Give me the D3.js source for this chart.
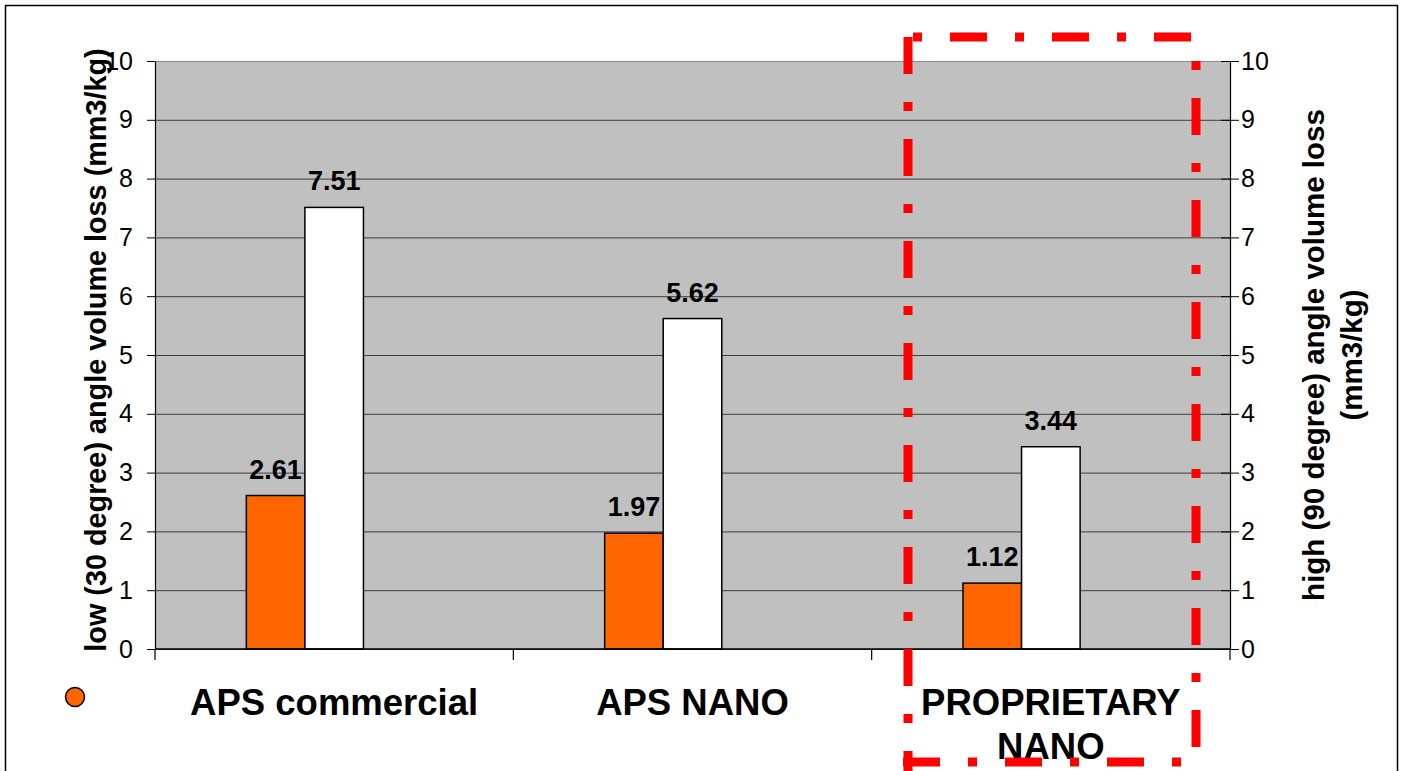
<!DOCTYPE html>
<html>
<head>
<meta charset="utf-8">
<script src="https://cdn.jsdelivr.net/npm/d3@7"></script>
<style>
  html, body { margin: 0; padding: 0; background: #fff; }
  svg { display: block; font-family: "Liberation Sans", Arial, sans-serif; }
</style>
</head>
<body>
<svg id="chart" width="1404" height="771"></svg>
<script>
// ---- data ----
const categories = ["APS commercial", "APS NANO", "PROPRIETARY NANO"];
const lowValues = [2.61, 1.97, 1.12];   // primary axis, orange
const highValues = [7.51, 5.62, 3.44];  // secondary axis, white
const yTickValues = [0, 1, 2, 3, 4, 5, 6, 7, 8, 9, 10];
const leftTitle = "low (30 degree) angle volume loss (mm3/kg)";
const rightTitleLines = ["high (90 degree) angle volume loss", "(mm3/kg)"];

// ---- layout ----
const svg = d3.select("#chart");
const plot = { left: 155, right: 1230, top: 61, bottom: 649 };
const plotW = plot.right - plot.left;

const x0 = d3.scaleBand().domain(categories).range([plot.left, plot.right]).padding(0);
const slots = ["low", "high", "spare"];
const x1 = d3.scaleBand().domain(slots).range([0, x0.bandwidth()]).paddingInner(0).paddingOuter(1.56);
const yL = d3.scaleLinear().domain([0, 10]).range([plot.bottom, plot.top]);
const yR = d3.scaleLinear().domain([0, 10]).range([plot.bottom, plot.top]);

// outer frame
svg.append("rect").attr("x", 5.5).attr("y", 5.5).attr("width", 1392).attr("height", 800)
  .attr("fill", "#fff").attr("stroke", "#000").attr("stroke-width", 1.5);

// plot area
svg.append("rect").attr("x", plot.left).attr("y", plot.top).attr("width", plotW)
  .attr("height", plot.bottom - plot.top).attr("fill", "#C0C0C0");

// gridlines
svg.append("g").attr("transform", `translate(${plot.left},0)`)
  .call(d3.axisLeft(yL).tickValues(yTickValues).tickSize(-plotW).tickFormat(""))
  .call(g => g.select(".domain").remove())
  .call(g => g.selectAll(".tick line").attr("stroke", (d) => d === 10 ? "#8a8a8a" : "#3c3c3c").attr("stroke-width", 1));

// bars
const rows = categories.map((c, i) => ({ cat: c, low: lowValues[i], high: highValues[i] }));
const gBars = svg.append("g");
rows.forEach(r => {
  const gx = x0(r.cat);
  gBars.append("rect")
    .attr("x", gx + x1("low")).attr("y", yL(r.low))
    .attr("width", x1.bandwidth()).attr("height", yL(0) - yL(r.low))
    .attr("fill", "#FF6600").attr("stroke", "#000").attr("stroke-width", 1.5);
  gBars.append("rect")
    .attr("x", gx + x1("high")).attr("y", yR(r.high))
    .attr("width", x1.bandwidth()).attr("height", yR(0) - yR(r.high))
    .attr("fill", "#FFFFFF").attr("stroke", "#000").attr("stroke-width", 1.5);
  gBars.append("text")
    .attr("x", gx + x1("low") + x1.bandwidth() / 2).attr("y", yL(r.low) - 17)
    .attr("text-anchor", "middle").attr("font-weight", "bold").attr("font-size", 27)
    .text(r.low.toFixed(2));
  gBars.append("text")
    .attr("x", gx + x1("high") + x1.bandwidth() / 2).attr("y", yR(r.high) - 17)
    .attr("text-anchor", "middle").attr("font-weight", "bold").attr("font-size", 27)
    .text(r.high.toFixed(2));
});

// left axis
svg.append("g").attr("transform", `translate(${plot.left},0)`)
  .call(d3.axisLeft(yL).tickValues(yTickValues).tickSize(8).tickPadding(14).tickSizeOuter(0))
  .call(g => g.select(".domain").attr("stroke", "#000").attr("stroke-width", 1.2))
  .call(g => g.selectAll(".tick line").attr("stroke", "#000"))
  .call(g => g.selectAll(".tick text").attr("font-size", 25).attr("fill", "#000")
    .attr("font-family", "Liberation Sans, Arial, sans-serif"));

// right axis
svg.append("g").attr("transform", `translate(${plot.right},0)`)
  .call(d3.axisRight(yR).tickValues(yTickValues).tickSize(9).tickPadding(2).tickSizeOuter(0))
  .call(g => g.select(".domain").attr("stroke", "#000").attr("stroke-width", 1.2))
  .call(g => g.selectAll(".tick line").attr("x1", -9).attr("stroke", "#000"))
  .call(g => g.selectAll(".tick text").attr("font-size", 25).attr("fill", "#000")
    .attr("font-family", "Liberation Sans, Arial, sans-serif"));

// x axis
const xg = svg.append("g");
xg.append("line").attr("x1", plot.left).attr("x2", plot.right)
  .attr("y1", plot.bottom).attr("y2", plot.bottom).attr("stroke", "#000").attr("stroke-width", 1.5);
const boundaries = categories.map(c => x0(c)).concat([x0(categories[categories.length - 1]) + x0.bandwidth()]);
xg.selectAll("line.xt").data(boundaries).join("line").attr("class", "xt")
  .attr("x1", d => d).attr("x2", d => d).attr("y1", plot.bottom).attr("y2", plot.bottom + 11)
  .attr("stroke", "#000").attr("stroke-width", 1.2);

// category labels (wrapped)
categories.forEach(c => {
  const cx = x0(c) + x0.bandwidth() / 2;
  const t = xg.append("text").attr("x", cx).attr("y", 715).attr("text-anchor", "middle")
    .attr("font-weight", "bold").attr("font-size", 36.5).text(c);
  if (t.node().getComputedTextLength() > x0.bandwidth() * 0.85) {
    const words = c.split(" ");
    t.text(null);
    words.forEach((w, i) => {
      t.append("tspan").attr("x", cx).attr("dy", i === 0 ? 0 : 44).text(w);
    });
  }
});

// legend marker
svg.append("circle").attr("cx", 75).attr("cy", 697).attr("r", 9.5)
  .attr("fill", "#FF6600").attr("stroke", "#000").attr("stroke-width", 1.5);

// axis titles
svg.append("text").attr("transform", `translate(106,350) rotate(-90)`)
  .attr("text-anchor", "middle").attr("font-weight", "bold").attr("font-size", 28.8).text(leftTitle);
const rt = svg.append("text").attr("transform", `translate(1324,${(plot.top + plot.bottom) / 2}) rotate(-90)`)
  .attr("text-anchor", "middle").attr("font-weight", "bold").attr("font-size", 29.5);
rightTitleLines.forEach((l, i) => rt.append("tspan").attr("x", 0).attr("dy", i === 0 ? 0 : 38).text(l));

// highlight box (dash-dot, red)
const hb = { x1: 908, x2: 1196, y1: 37, y2: 762 };
const dash = "37,28,9,28";
const red = svg.append("g").attr("stroke", "#FF0000").attr("stroke-width", 9).attr("fill", "none")
  .attr("stroke-dasharray", dash);
red.append("line").attr("x1", hb.x1).attr("y1", hb.y1).attr("x2", hb.x1).attr("y2", 775).attr("stroke-dashoffset", 0);
red.append("line").attr("x1", hb.x1).attr("y1", hb.y1).attr("x2", hb.x2 + 4).attr("y2", hb.y1).attr("stroke-dashoffset", 60);
red.append("line").attr("x1", hb.x2).attr("y1", hb.y1).attr("x2", hb.x2).attr("y2", 775).attr("stroke-dashoffset", 41);
red.append("line").attr("x1", hb.x1 - 5).attr("y1", hb.y2).attr("x2", hb.x2).attr("y2", hb.y2).attr("stroke-dashoffset", 0);
</script>
</body>
</html>
